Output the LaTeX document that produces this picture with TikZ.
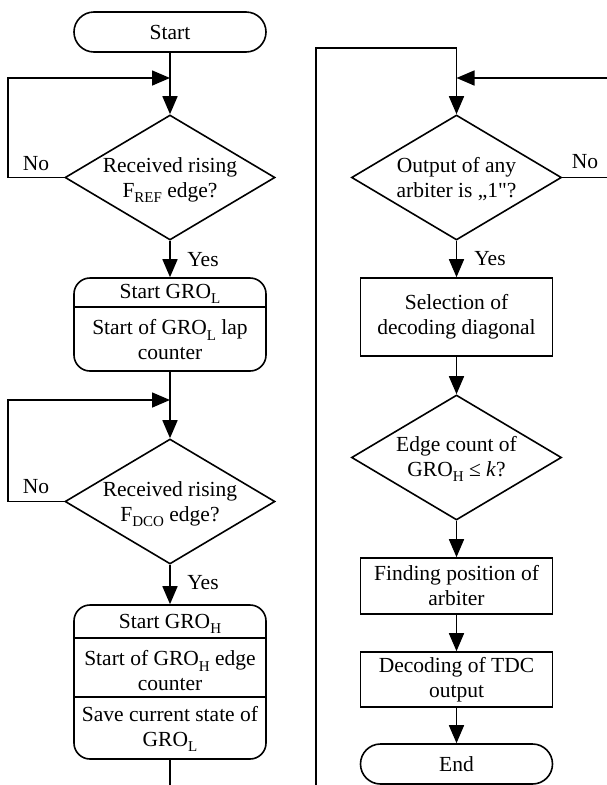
\documentclass[tikz,border=0pt]{standalone}
\usepackage{fontspec}
\setmainfont{Liberation Serif}
\newfontfamily\qfont{Liberation Serif}
\usetikzlibrary{arrows.meta,shapes.geometric,shapes.misc}
\newcommand{\sbs}[1]{\raisebox{-0.25em}{\fontsize{15}{15}\selectfont #1}}
\begin{document}
\begin{tikzpicture}[x=1pt,y=-1pt, font=\fontsize{21.5}{25}\selectfont,
 line/.style={line width=1.6pt},
 arr/.style={line, -{Triangle[length=18pt,width=15pt]}},
 term/.style={draw, line width=1.6pt, rounded rectangle, minimum width=192pt, minimum height=40pt, inner sep=0pt},
 dia/.style={draw, line width=1.6pt, diamond, minimum width=210pt, minimum height=125pt, inner sep=0pt},
 proc/.style={draw, line width=1.6pt, rectangle, minimum width=192pt, inner sep=0pt, align=center},
 rproc/.style={proc, rounded corners=16pt},
 txt/.style={align=center, inner sep=0pt},
 lbl/.style={inner sep=0pt}]
\useasboundingbox (0,0) rectangle (607,785);

% left column
\node[term] (start) at (170,32) {Start};
\node[dia] (d1) at (170,177.5) {};
\node[txt] (d1t) at (170,180) {Received rising\\F\sbs{REF} edge?};
\node[rproc, minimum height=93pt] (b2) at (170,324.5) {};
\node[txt] (b2a) at (170,294) {Start GRO\sbs{L}};
\node[txt] (b2b) at (170,340) {Start of GRO\sbs{L} lap\\counter};
\node[dia] (d2) at (170,501.5) {};
\node[txt] (d2t) at (170,504) {Received rising\\F\sbs{DCO} edge?};
\node[rproc, minimum height=154pt] (b3) at (170,682) {};
\node[txt] (b3a) at (170,624) {Start GRO\sbs{H}};
\node[txt] (b3b) at (170,671) {Start of GRO\sbs{H} edge\\counter};
\node[txt] (b3c) at (170,729) {Save current state of\\GRO\sbs{L}};

\node[lbl] (no1) at (36,164) {No};
\node[lbl] (no2) at (36,487) {No};
\node[lbl] (yes1) at (203,260) {Yes};
\node[lbl] (yes2) at (203,583) {Yes};

\coordinate (j1) at (170,78);
\coordinate (l1) at (8,78);
\coordinate (j2) at (170,400);
\coordinate (l2) at (8,400);
\coordinate (bl) at (170,785);

\draw[line] ([yshift=-30pt]b2.north west) -- ([yshift=-30pt]b2.north east);
\draw[line] ([yshift=-34pt]b3.north west) -- ([yshift=-34pt]b3.north east);
\draw[line] ([yshift=-93pt]b3.north west) -- ([yshift=-93pt]b3.north east);

\draw[arr] (start.south) -- (d1.north);
\draw[arr] (d1.west) -| (l1) -- (j1);
\draw[arr] (d1.south) -- (b2.north);
\draw[arr] (b2.south) -- (d2.north);
\draw[arr] (d2.west) -| (l2) -- (j2);
\draw[arr] (d2.south) -- (b3.north);
\draw[line] (b3.south) -- (bl);

% right column
\node[dia] (r1) at (456.5,177.5) {};
\node[txt] (r1t) at (456.5,179) {Output of any\\arbiter is „1{\qfont"}?};
\node[proc, minimum height=78pt] (rb1) at (456.5,317) {Selection of\\decoding diagonal};
\node[dia] (r2) at (456.5,457.5) {};
\node[txt] (r2t) at (456.5,459) {Edge count of\\GRO\sbs{H} ≤ \textit{k}?};
\node[proc, minimum height=56pt] (rb2) at (456.5,586) {Finding position of\\arbiter};
\node[proc, minimum height=55pt] (rb3) at (456.5,679.5) {Decoding of TDC\\output};
\node[term] (end) at (456.5,764) {End};

\node[lbl] (no3) at (585,162) {No};
\node[lbl] (yes3) at (490,259) {Yes};

\coordinate (rb) at (316,785);
\coordinate (rt) at (316,48);
\coordinate (rtc) at (456.5,48);
\coordinate (ej) at (607,78);
\coordinate (rj) at (456.5,78);
\coordinate (en) at (607,177.5);

\draw[arr] (rb) -- (rt) -- (rtc) -- (r1.north);
\draw[arr] (ej) -- (rj);
\draw[line] (r1.east) -- (en);
\draw[arr] (r1.south) -- (rb1.north);
\draw[arr] (rb1.south) -- (r2.north);
\draw[arr] (r2.south) -- (rb2.north);
\draw[arr] (rb2.south) -- (rb3.north);
\draw[arr] (rb3.south) -- (end.north);
\end{tikzpicture}
\end{document}
